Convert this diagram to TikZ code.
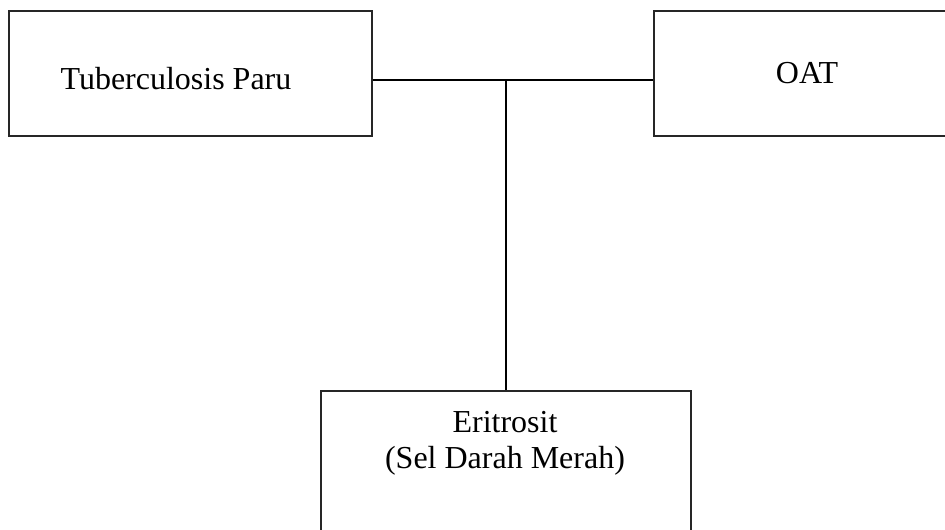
\documentclass[tikz,border=0pt]{standalone}
\usepackage{fontspec}
\setmainfont{Liberation Serif}
\begin{document}
\begin{tikzpicture}[x=1pt,y=-1pt,
  box/.style={draw=black!85,line width=1.1pt,rectangle,inner sep=0pt},
  lbl/.style={font=\fontsize{32}{37}\selectfont,anchor=base,inner sep=0pt},
  conn/.style={line width=1.6pt}]
\useasboundingbox (0,0) rectangle (945,530);
\node[box,minimum width=363pt,minimum height=125pt] (tb) at (190.5,73.5) {};
\node[box,minimum width=300pt,minimum height=125pt] (oat) at (804,73.5) {};
\node[box,minimum width=370pt,minimum height=160pt] (eri) at (506,471) {};
\node[lbl] (tbt) at (176,89) {Tuberculosis Paru};
\node[lbl] (oatt) at (807,83) {OAT};
\node[lbl] (erit1) at (505,432) {Eritrosit};
\node[lbl] (erit2) at (505,468) {(Sel Darah Merah)};
\coordinate (j) at (506,80);
\draw[conn] (tb.east |- j) -- (oat.west |- j);
\draw[conn] (j) -- (eri.north -| j);
\end{tikzpicture}
\end{document}
